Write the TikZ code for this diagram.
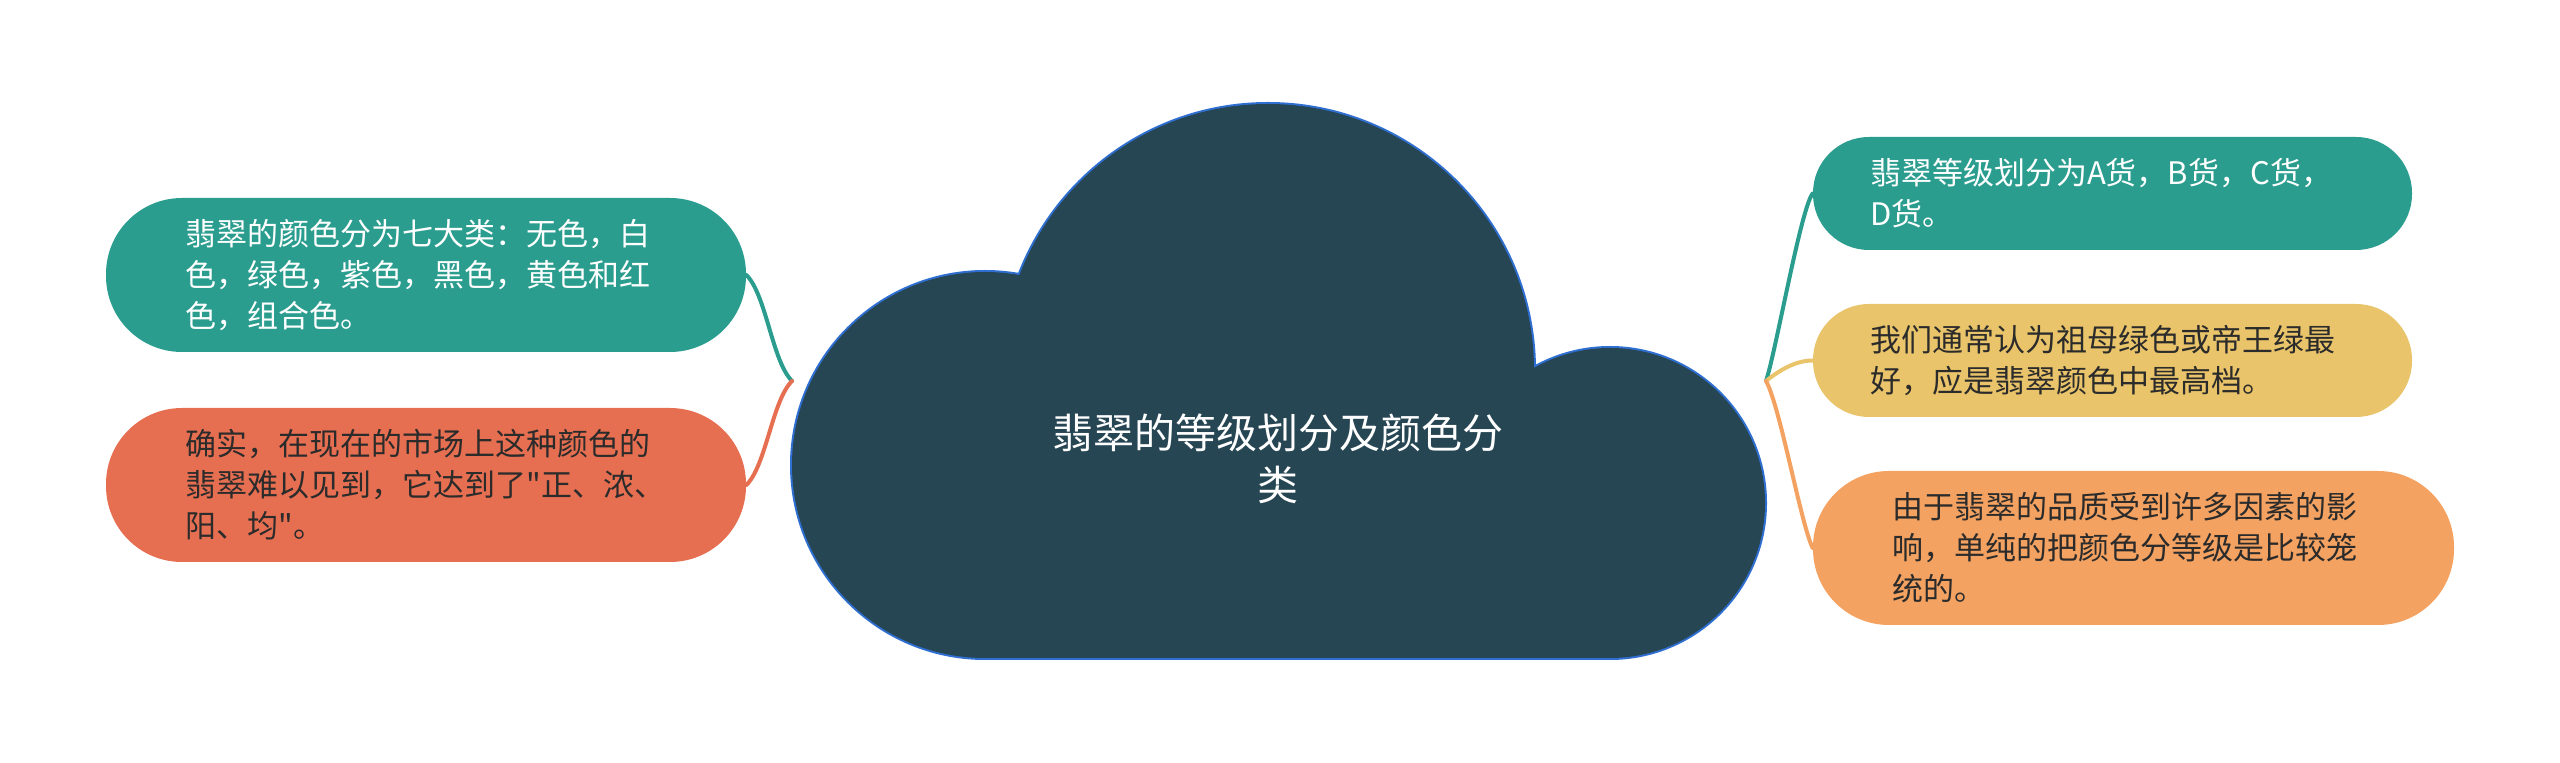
\documentclass[tikz,border=0pt]{standalone}
\usepackage{fontspec}
\newfontfamily\zhfont{Noto Sans CJK SC}
\usetikzlibrary{backgrounds}
\definecolor{cloudfill}{HTML}{264653}
\definecolor{cloudline}{HTML}{2F6FD2}
\definecolor{cteal}{HTML}{2A9D8F}
\definecolor{cred}{HTML}{E76F51}
\definecolor{cyellow}{HTML}{E9C46A}
\definecolor{corange}{HTML}{F4A261}
\definecolor{darktext}{HTML}{2B2B2B}
\begin{document}
\begin{tikzpicture}[x=0.5pt,y=-0.5pt,
  box/.style={rectangle, inner sep=0pt, align=left, font=\zhfont\fontsize{15.5pt}{20.5pt}\selectfont},
  bigbox/.style={box, minimum width=320pt, minimum height=77pt, rounded corners=38pt, text width=240.5pt},
  smallbox/.style={box, minimum width=299.5pt, minimum height=56.5pt, rounded corners=28pt, text width=242.5pt},
  link/.style={line width=2pt, line cap=round},
  cloudpart/.style={draw=cloudline, line width=2pt}
]
\useasboundingbox (0,0) rectangle (2560,763);
% cloud: border first, fill on top
\path[cloudpart] (985,465) circle[radius=96.5pt];
\path[cloudpart] (1268,370) circle[radius=133pt];
\path[cloudpart] (1610,503) circle[radius=77.5pt];
\path[cloudpart] (985,465) rectangle (1610,658);
\path[fill=cloudfill] (985,465) circle[radius=96.5pt];
\path[fill=cloudfill] (1268,370) circle[radius=133pt];
\path[fill=cloudfill] (1610,503) circle[radius=77.5pt];
\path[fill=cloudfill] (985,465) rectangle (1610,658);
\node[text=white, align=center, inner sep=0pt, font=\zhfont\fontsize{20.5pt}{26pt}\selectfont] (title) at (1278,459) {翡翠的等级划分及颜色分\\类};

\node[bigbox, fill=cteal, text=white] (l1) at (426,275) {翡翠的颜色分为七大类：无色，白\\色，绿色，紫色，黑色，黄色和红\\色，组合色。};
\node[bigbox, fill=cred, text=darktext] (l2) at (426,485) {确实，在现在的市场上这种颜色的\\翡翠难以见到，它达到了"正、浓、\\阳、均"。};
\node[smallbox, fill=cteal, text=white] (r1) at (2112.5,193.5) {翡翠等级划分为A货，B货，C货，\\D货。};
\node[smallbox, fill=cyellow, text=darktext] (r2) at (2112.5,360.5) {我们通常认为祖母绿色或帝王绿最\\好，应是翡翠颜色中最高档。};
\node[bigbox, minimum width=320.5pt, text width=241.5pt, fill=corange, text=darktext] (r3) at (2133.5,548) {由于翡翠的品质受到许多因素的影\\响，单纯的把颜色分等级是比较笼\\统的。};

\coordinate (jl) at (792,381);
\coordinate (jr) at (1766,381);
\begin{scope}[on background layer]
\draw[link, cteal] (l1.east) .. controls +(20,20) and +(-20,-20) .. (jl);
\draw[link, cred] (jl) .. controls +(-20,20) and +(20,-20) .. (l2.east);
\draw[link, cteal] (jr) .. controls +(10,-30) and +(-12,16) .. (r1.west);
\draw[link, cyellow] (jr) .. controls +(15,-12) and +(-16,0) .. (r2.west);
\draw[link, corange] (jr) .. controls +(14,25) and +(-12,-25) .. (r3.west);
\end{scope}
\end{tikzpicture}
\end{document}
